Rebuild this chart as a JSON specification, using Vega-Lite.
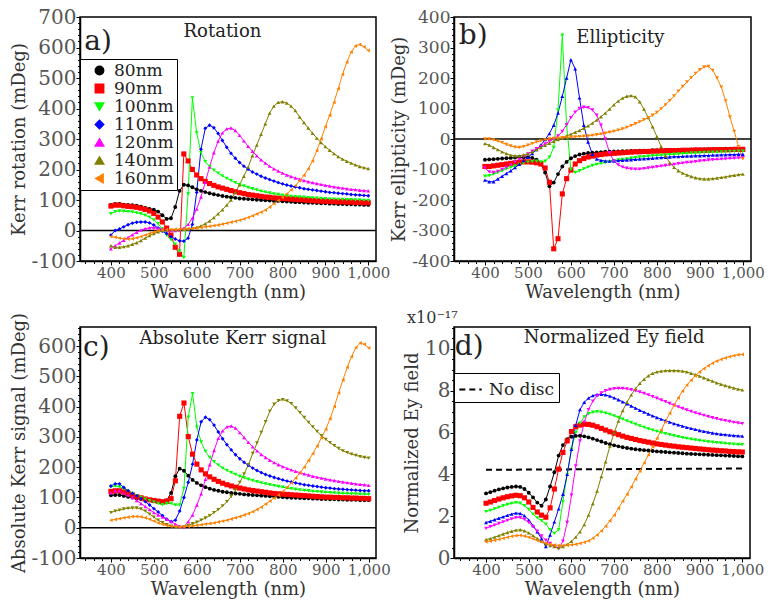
{
"$schema":"https://vega.github.io/schema/vega-lite/v6.json",
"padding":{"left":9,"top":6,"right":0,"bottom":0},
"config":{"font":"DejaVu Serif","view":{"stroke":"#000000","strokeWidth":1.5},
"axis":{"domainColor":"#000000","domainWidth":1.5,"tickColor":"#000000","tickWidth":1,"labelFont":"DejaVu Serif","labelFontSize":15,"labelColor":"#555555","titleFont":"DejaVu Serif","titleFontSize":18,"titleFontWeight":"normal","titleColor":"#333333","grid":false,"labelPadding":0,"titlePadding":3,"labelOverlap":false,"labelFlush":false}},
"datasets":{
"A":[
{"w":400,"80nm":84,"90nm":80,"100nm":55,"110nm":-15,"120nm":-60,"140nm":-50,"160nm":-20},
{"w":410,"80nm":87,"90nm":83,"100nm":62,"110nm":0,"120nm":-50,"140nm":-55,"160nm":-22},
{"w":420,"80nm":87,"90nm":83,"100nm":64,"110nm":5,"120nm":-41,"140nm":-55,"160nm":-25},
{"w":430,"80nm":85,"90nm":81,"100nm":63,"110nm":12,"120nm":-32,"140nm":-53,"160nm":-27},
{"w":440,"80nm":84,"90nm":79,"100nm":62,"110nm":19,"120nm":-23,"140nm":-50,"160nm":-28},
{"w":450,"80nm":83,"90nm":78,"100nm":61,"110nm":24,"120nm":-14,"140nm":-45,"160nm":-27},
{"w":460,"80nm":81,"90nm":76,"100nm":58,"110nm":27,"120nm":-6,"140nm":-40,"160nm":-24},
{"w":470,"80nm":78,"90nm":73,"100nm":55,"110nm":28,"120nm":1,"140nm":-33,"160nm":-20},
{"w":480,"80nm":74,"90nm":69,"100nm":50,"110nm":28,"120nm":6,"140nm":-25,"160nm":-15},
{"w":490,"80nm":71,"90nm":64,"100nm":44,"110nm":25,"120nm":9,"140nm":-17,"160nm":-10},
{"w":500,"80nm":68,"90nm":56,"100nm":35,"110nm":18,"120nm":10,"140nm":-10,"160nm":-5},
{"w":510,"80nm":62,"90nm":44,"100nm":22,"110nm":8,"120nm":8,"140nm":-4,"160nm":0},
{"w":520,"80nm":50,"90nm":28,"100nm":5,"110nm":-2,"120nm":5,"140nm":0,"160nm":2},
{"w":530,"80nm":38,"90nm":8,"100nm":-15,"110nm":-10,"120nm":2,"140nm":2,"160nm":3},
{"w":540,"80nm":40,"90nm":-15,"100nm":-30,"110nm":-20,"120nm":0,"140nm":3,"160nm":3},
{"w":550,"80nm":77,"90nm":-55,"100nm":-45,"110nm":-28,"120nm":0,"140nm":3,"160nm":4},
{"w":560,"80nm":130,"90nm":-78,"100nm":-68,"110nm":-34,"120nm":2,"140nm":3,"160nm":4},
{"w":570,"80nm":150,"90nm":251,"100nm":-89,"110nm":-35,"120nm":8,"140nm":4,"160nm":5},
{"w":580,"80nm":148,"90nm":228,"100nm":121,"110nm":-25,"120nm":20,"140nm":5,"160nm":6},
{"w":590,"80nm":142,"90nm":200,"100nm":435,"110nm":20,"120nm":40,"140nm":7,"160nm":7},
{"w":600,"80nm":135,"90nm":182,"100nm":320,"110nm":125,"120nm":70,"140nm":10,"160nm":8},
{"w":610,"80nm":130,"90nm":170,"100nm":255,"110nm":266,"120nm":110,"140nm":15,"160nm":10},
{"w":620,"80nm":126,"90nm":161,"100nm":226,"110nm":335,"120nm":158,"140nm":22,"160nm":12},
{"w":630,"80nm":122,"90nm":154,"100nm":210,"110nm":345,"120nm":208,"140nm":31,"160nm":14},
{"w":640,"80nm":119,"90nm":148,"100nm":198,"110nm":337,"120nm":255,"140nm":42,"160nm":16},
{"w":650,"80nm":116,"90nm":143,"100nm":188,"110nm":318,"120nm":293,"140nm":55,"160nm":18},
{"w":660,"80nm":113,"90nm":139,"100nm":179,"110nm":295,"120nm":320,"140nm":68,"160nm":21},
{"w":670,"80nm":111,"90nm":135,"100nm":171,"110nm":273,"120nm":333,"140nm":83,"160nm":24},
{"w":680,"80nm":109,"90nm":131,"100nm":164,"110nm":253,"120nm":336,"140nm":100,"160nm":27},
{"w":690,"80nm":107,"90nm":127,"100nm":157,"110nm":237,"120nm":328,"140nm":125,"160nm":30},
{"w":700,"80nm":105,"90nm":124,"100nm":151,"110nm":223,"120nm":312,"140nm":150,"160nm":34},
{"w":710,"80nm":104,"90nm":121,"100nm":146,"110nm":211,"120nm":294,"140nm":178,"160nm":38},
{"w":720,"80nm":103,"90nm":118,"100nm":141,"110nm":201,"120nm":276,"140nm":208,"160nm":43},
{"w":730,"80nm":102,"90nm":116,"100nm":137,"110nm":192,"120nm":260,"140nm":245,"160nm":48},
{"w":740,"80nm":101,"90nm":114,"100nm":133,"110nm":185,"120nm":245,"140nm":280,"160nm":54},
{"w":750,"80nm":100,"90nm":112,"100nm":129,"110nm":178,"120nm":232,"140nm":315,"160nm":60},
{"w":760,"80nm":99,"90nm":110,"100nm":126,"110nm":172,"120nm":221,"140nm":350,"160nm":67},
{"w":770,"80nm":98,"90nm":109,"100nm":123,"110nm":167,"120nm":211,"140nm":385,"160nm":77},
{"w":780,"80nm":97,"90nm":107,"100nm":120,"110nm":162,"120nm":202,"140nm":408,"160nm":88},
{"w":790,"80nm":97,"90nm":106,"100nm":118,"110nm":157,"120nm":195,"140nm":420,"160nm":98},
{"w":800,"80nm":96,"90nm":105,"100nm":116,"110nm":153,"120nm":188,"140nm":422,"160nm":109},
{"w":810,"80nm":95,"90nm":104,"100nm":114,"110nm":149,"120nm":182,"140nm":418,"160nm":120},
{"w":820,"80nm":94,"90nm":103,"100nm":112,"110nm":146,"120nm":177,"140nm":408,"160nm":133},
{"w":830,"80nm":93,"90nm":102,"100nm":111,"110nm":143,"120nm":172,"140nm":393,"160nm":147},
{"w":840,"80nm":93,"90nm":101,"100nm":110,"110nm":140,"120nm":168,"140nm":372,"160nm":163},
{"w":850,"80nm":92,"90nm":100,"100nm":109,"110nm":137,"120nm":164,"140nm":354,"160nm":181},
{"w":860,"80nm":91,"90nm":99,"100nm":108,"110nm":135,"120nm":160,"140nm":336,"160nm":202},
{"w":870,"80nm":91,"90nm":98,"100nm":107,"110nm":133,"120nm":157,"140nm":319,"160nm":228},
{"w":880,"80nm":90,"90nm":97,"100nm":106,"110nm":131,"120nm":154,"140nm":303,"160nm":262},
{"w":890,"80nm":89,"90nm":96,"100nm":105,"110nm":129,"120nm":151,"140nm":288,"160nm":300},
{"w":900,"80nm":89,"90nm":96,"100nm":104,"110nm":127,"120nm":148,"140nm":275,"160nm":340},
{"w":910,"80nm":88,"90nm":95,"100nm":103,"110nm":125,"120nm":146,"140nm":263,"160nm":378},
{"w":920,"80nm":88,"90nm":95,"100nm":103,"110nm":124,"120nm":143,"140nm":252,"160nm":420},
{"w":930,"80nm":87,"90nm":94,"100nm":102,"110nm":122,"120nm":141,"140nm":242,"160nm":465},
{"w":940,"80nm":87,"90nm":94,"100nm":102,"110nm":121,"120nm":139,"140nm":234,"160nm":512},
{"w":950,"80nm":86,"90nm":93,"100nm":101,"110nm":120,"120nm":137,"140nm":227,"160nm":552},
{"w":960,"80nm":86,"90nm":93,"100nm":101,"110nm":118,"120nm":135,"140nm":221,"160nm":585},
{"w":970,"80nm":85,"90nm":92,"100nm":100,"110nm":117,"120nm":134,"140nm":215,"160nm":605},
{"w":980,"80nm":85,"90nm":92,"100nm":100,"110nm":116,"120nm":132,"140nm":210,"160nm":610},
{"w":990,"80nm":84,"90nm":91,"100nm":99,"110nm":115,"120nm":131,"140nm":206,"160nm":602},
{"w":1000,"80nm":84,"90nm":91,"100nm":99,"110nm":114,"120nm":130,"140nm":203,"160nm":590}
],
"B":[
{"w":400,"80nm":-68,"90nm":-90,"100nm":-122,"110nm":-135,"120nm":-95,"140nm":-15,"160nm":0},
{"w":410,"80nm":-67,"90nm":-90,"100nm":-120,"110nm":-140,"120nm":-108,"140nm":-20,"160nm":0},
{"w":420,"80nm":-66,"90nm":-88,"100nm":-115,"110nm":-140,"120nm":-110,"140nm":-28,"160nm":-3},
{"w":430,"80nm":-65,"90nm":-86,"100nm":-110,"110nm":-131,"120nm":-106,"140nm":-35,"160nm":-7},
{"w":440,"80nm":-64,"90nm":-84,"100nm":-104,"110nm":-122,"120nm":-100,"140nm":-42,"160nm":-12},
{"w":450,"80nm":-63,"90nm":-82,"100nm":-98,"110nm":-113,"120nm":-93,"140nm":-48,"160nm":-18},
{"w":460,"80nm":-62,"90nm":-80,"100nm":-93,"110nm":-104,"120nm":-85,"140nm":-53,"160nm":-23},
{"w":470,"80nm":-61,"90nm":-78,"100nm":-88,"110nm":-94,"120nm":-76,"140nm":-55,"160nm":-27},
{"w":480,"80nm":-60,"90nm":-76,"100nm":-83,"110nm":-83,"120nm":-67,"140nm":-55,"160nm":-28},
{"w":490,"80nm":-60,"90nm":-75,"100nm":-79,"110nm":-71,"120nm":-58,"140nm":-52,"160nm":-25},
{"w":500,"80nm":-60,"90nm":-75,"100nm":-76,"110nm":-60,"120nm":-49,"140nm":-48,"160nm":-20},
{"w":510,"80nm":-62,"90nm":-76,"100nm":-74,"110nm":-48,"120nm":-40,"140nm":-42,"160nm":-15},
{"w":520,"80nm":-68,"90nm":-78,"100nm":-73,"110nm":-35,"120nm":-32,"140nm":-35,"160nm":-10},
{"w":530,"80nm":-82,"90nm":-82,"100nm":-75,"110nm":-20,"120nm":-24,"140nm":-28,"160nm":-6},
{"w":540,"80nm":-110,"90nm":-95,"100nm":-73,"110nm":-2,"120nm":-16,"140nm":-21,"160nm":-3},
{"w":550,"80nm":-155,"90nm":-142,"100nm":-60,"110nm":18,"120nm":-8,"140nm":-14,"160nm":0},
{"w":560,"80nm":-143,"90nm":-360,"100nm":-28,"110nm":45,"120nm":0,"140nm":-8,"160nm":2},
{"w":570,"80nm":-115,"90nm":-327,"100nm":95,"110nm":85,"120nm":10,"140nm":-2,"160nm":3},
{"w":580,"80nm":-90,"90nm":-180,"100nm":340,"110nm":140,"120nm":25,"140nm":4,"160nm":4},
{"w":590,"80nm":-75,"90nm":-130,"100nm":45,"110nm":200,"120nm":47,"140nm":10,"160nm":5},
{"w":600,"80nm":-63,"90nm":-102,"100nm":-100,"110nm":260,"120nm":70,"140nm":16,"160nm":6},
{"w":610,"80nm":-56,"90nm":-82,"100nm":-110,"110nm":230,"120nm":88,"140nm":22,"160nm":7},
{"w":620,"80nm":-51,"90nm":-71,"100nm":-104,"110nm":135,"120nm":100,"140nm":28,"160nm":8},
{"w":630,"80nm":-48,"90nm":-64,"100nm":-98,"110nm":45,"120nm":104,"140nm":35,"160nm":9},
{"w":640,"80nm":-46,"90nm":-59,"100nm":-92,"110nm":-10,"120nm":103,"140nm":43,"160nm":10},
{"w":650,"80nm":-45,"90nm":-56,"100nm":-87,"110nm":-50,"120nm":95,"140nm":52,"160nm":12},
{"w":660,"80nm":-44,"90nm":-53,"100nm":-83,"110nm":-66,"120nm":78,"140nm":62,"160nm":14},
{"w":670,"80nm":-43,"90nm":-51,"100nm":-80,"110nm":-70,"120nm":45,"140nm":73,"160nm":16},
{"w":680,"80nm":-42,"90nm":-49,"100nm":-77,"110nm":-72,"120nm":0,"140nm":85,"160nm":19},
{"w":690,"80nm":-42,"90nm":-48,"100nm":-74,"110nm":-72,"120nm":-45,"140nm":98,"160nm":22},
{"w":700,"80nm":-41,"90nm":-47,"100nm":-71,"110nm":-72,"120nm":-72,"140nm":112,"160nm":25},
{"w":710,"80nm":-41,"90nm":-46,"100nm":-69,"110nm":-71,"120nm":-85,"140nm":124,"160nm":29},
{"w":720,"80nm":-40,"90nm":-45,"100nm":-67,"110nm":-70,"120nm":-92,"140nm":134,"160nm":33},
{"w":730,"80nm":-40,"90nm":-44,"100nm":-65,"110nm":-69,"120nm":-96,"140nm":140,"160nm":38},
{"w":740,"80nm":-39,"90nm":-43,"100nm":-63,"110nm":-68,"120nm":-98,"140nm":142,"160nm":44},
{"w":750,"80nm":-39,"90nm":-42,"100nm":-61,"110nm":-67,"120nm":-99,"140nm":138,"160nm":50},
{"w":760,"80nm":-38,"90nm":-42,"100nm":-59,"110nm":-66,"120nm":-99,"140nm":122,"160nm":56},
{"w":770,"80nm":-38,"90nm":-41,"100nm":-58,"110nm":-65,"120nm":-97,"140nm":98,"160nm":63},
{"w":780,"80nm":-38,"90nm":-41,"100nm":-56,"110nm":-64,"120nm":-95,"140nm":70,"160nm":70},
{"w":790,"80nm":-37,"90nm":-40,"100nm":-55,"110nm":-63,"120nm":-93,"140nm":40,"160nm":78},
{"w":800,"80nm":-37,"90nm":-40,"100nm":-54,"110nm":-62,"120nm":-91,"140nm":8,"160nm":87},
{"w":810,"80nm":-37,"90nm":-39,"100nm":-53,"110nm":-61,"120nm":-89,"140nm":-25,"160nm":99},
{"w":820,"80nm":-36,"90nm":-39,"100nm":-52,"110nm":-60,"120nm":-87,"140nm":-55,"160nm":112},
{"w":830,"80nm":-36,"90nm":-38,"100nm":-51,"110nm":-59,"120nm":-85,"140nm":-78,"160nm":126},
{"w":840,"80nm":-36,"90nm":-38,"100nm":-50,"110nm":-58,"120nm":-83,"140nm":-93,"160nm":141},
{"w":850,"80nm":-35,"90nm":-38,"100nm":-49,"110nm":-58,"120nm":-81,"140nm":-104,"160nm":157},
{"w":860,"80nm":-35,"90nm":-37,"100nm":-48,"110nm":-57,"120nm":-79,"140nm":-112,"160nm":172},
{"w":870,"80nm":-35,"90nm":-37,"100nm":-47,"110nm":-56,"120nm":-77,"140nm":-118,"160nm":187},
{"w":880,"80nm":-34,"90nm":-37,"100nm":-46,"110nm":-56,"120nm":-76,"140nm":-123,"160nm":201},
{"w":890,"80nm":-34,"90nm":-36,"100nm":-46,"110nm":-55,"120nm":-74,"140nm":-127,"160nm":215},
{"w":900,"80nm":-34,"90nm":-36,"100nm":-45,"110nm":-55,"120nm":-72,"140nm":-130,"160nm":227},
{"w":910,"80nm":-34,"90nm":-36,"100nm":-44,"110nm":-54,"120nm":-71,"140nm":-131,"160nm":236},
{"w":920,"80nm":-33,"90nm":-36,"100nm":-44,"110nm":-54,"120nm":-69,"140nm":-131,"160nm":238},
{"w":930,"80nm":-33,"90nm":-35,"100nm":-43,"110nm":-53,"120nm":-68,"140nm":-130,"160nm":225},
{"w":940,"80nm":-33,"90nm":-35,"100nm":-43,"110nm":-53,"120nm":-67,"140nm":-128,"160nm":200},
{"w":950,"80nm":-33,"90nm":-35,"100nm":-42,"110nm":-52,"120nm":-66,"140nm":-126,"160nm":170},
{"w":960,"80nm":-32,"90nm":-35,"100nm":-42,"110nm":-52,"120nm":-65,"140nm":-124,"160nm":125},
{"w":970,"80nm":-32,"90nm":-35,"100nm":-41,"110nm":-51,"120nm":-64,"140nm":-121,"160nm":72},
{"w":980,"80nm":-32,"90nm":-34,"100nm":-41,"110nm":-51,"120nm":-63,"140nm":-119,"160nm":25},
{"w":990,"80nm":-32,"90nm":-34,"100nm":-40,"110nm":-50,"120nm":-62,"140nm":-117,"160nm":-25},
{"w":1000,"80nm":-32,"90nm":-34,"100nm":-40,"110nm":-50,"120nm":-61,"140nm":-115,"160nm":-65}
],
"C":[
{"w":400,"80nm":107,"90nm":120,"100nm":135,"110nm":138,"120nm":115,"140nm":50,"160nm":25},
{"w":410,"80nm":108,"90nm":122,"100nm":138,"110nm":145,"120nm":122,"140nm":55,"160nm":27},
{"w":420,"80nm":108,"90nm":122,"100nm":135,"110nm":145,"120nm":122,"140nm":58,"160nm":30},
{"w":430,"80nm":105,"90nm":118,"100nm":128,"110nm":133,"120nm":115,"140nm":62,"160nm":33},
{"w":440,"80nm":102,"90nm":113,"100nm":120,"110nm":122,"120nm":108,"140nm":64,"160nm":35},
{"w":450,"80nm":100,"90nm":108,"100nm":113,"110nm":113,"120nm":100,"140nm":65,"160nm":37},
{"w":460,"80nm":97,"90nm":103,"100nm":106,"110nm":105,"120nm":90,"140nm":65,"160nm":37},
{"w":470,"80nm":95,"90nm":99,"100nm":100,"110nm":96,"120nm":80,"140nm":62,"160nm":36},
{"w":480,"80nm":93,"90nm":95,"100nm":94,"110nm":86,"120nm":70,"140nm":55,"160nm":33},
{"w":490,"80nm":91,"90nm":92,"100nm":89,"110nm":75,"120nm":60,"140nm":45,"160nm":28},
{"w":500,"80nm":90,"90nm":90,"100nm":84,"110nm":63,"120nm":50,"140nm":35,"160nm":22},
{"w":510,"80nm":88,"90nm":88,"100nm":80,"110nm":52,"120nm":42,"140nm":25,"160nm":16},
{"w":520,"80nm":86,"90nm":86,"100nm":76,"110nm":40,"120nm":35,"140nm":17,"160nm":11},
{"w":530,"80nm":90,"90nm":88,"100nm":80,"110nm":28,"120nm":28,"140nm":10,"160nm":7},
{"w":540,"80nm":115,"90nm":96,"100nm":80,"110nm":20,"120nm":20,"140nm":5,"160nm":5},
{"w":550,"80nm":170,"90nm":155,"100nm":75,"110nm":25,"120nm":12,"140nm":2,"160nm":4},
{"w":560,"80nm":195,"90nm":368,"100nm":75,"110nm":55,"120nm":5,"140nm":1,"160nm":3},
{"w":570,"80nm":188,"90nm":412,"100nm":130,"110nm":100,"120nm":3,"140nm":3,"160nm":4},
{"w":580,"80nm":172,"90nm":301,"100nm":365,"110nm":150,"120nm":20,"140nm":8,"160nm":5},
{"w":590,"80nm":158,"90nm":243,"100nm":443,"110nm":210,"120nm":42,"140nm":13,"160nm":6},
{"w":600,"80nm":148,"90nm":210,"100nm":332,"110nm":290,"120nm":75,"140nm":18,"160nm":8},
{"w":610,"80nm":140,"90nm":191,"100nm":283,"110nm":350,"120nm":112,"140nm":25,"160nm":10},
{"w":620,"80nm":134,"90nm":178,"100nm":252,"110nm":365,"120nm":160,"140nm":32,"160nm":12},
{"w":630,"80nm":129,"90nm":168,"100nm":232,"110nm":357,"120nm":208,"140nm":40,"160nm":14},
{"w":640,"80nm":125,"90nm":160,"100nm":218,"110nm":339,"120nm":255,"140nm":50,"160nm":16},
{"w":650,"80nm":122,"90nm":153,"100nm":207,"110nm":316,"120nm":295,"140nm":60,"160nm":19},
{"w":660,"80nm":119,"90nm":147,"100nm":197,"110nm":294,"120nm":320,"140nm":72,"160nm":22},
{"w":670,"80nm":117,"90nm":142,"100nm":189,"110nm":274,"120nm":333,"140nm":86,"160nm":25},
{"w":680,"80nm":115,"90nm":138,"100nm":182,"110nm":257,"120nm":336,"140nm":103,"160nm":29},
{"w":690,"80nm":113,"90nm":134,"100nm":176,"110nm":241,"120nm":329,"140nm":125,"160nm":33},
{"w":700,"80nm":112,"90nm":131,"100nm":170,"110nm":228,"120nm":314,"140nm":150,"160nm":37},
{"w":710,"80nm":110,"90nm":128,"100nm":165,"110nm":216,"120nm":298,"140nm":178,"160nm":42},
{"w":720,"80nm":109,"90nm":125,"100nm":160,"110nm":206,"120nm":282,"140nm":208,"160nm":47},
{"w":730,"80nm":108,"90nm":123,"100nm":156,"110nm":197,"120nm":267,"140nm":245,"160nm":53},
{"w":740,"80nm":107,"90nm":121,"100nm":152,"110nm":189,"120nm":254,"140nm":280,"160nm":60},
{"w":750,"80nm":106,"90nm":119,"100nm":148,"110nm":182,"120nm":242,"140nm":315,"160nm":68},
{"w":760,"80nm":105,"90nm":117,"100nm":145,"110nm":176,"120nm":232,"140nm":350,"160nm":78},
{"w":770,"80nm":104,"90nm":115,"100nm":142,"110nm":171,"120nm":223,"140nm":385,"160nm":88},
{"w":780,"80nm":103,"90nm":113,"100nm":139,"110nm":166,"120nm":215,"140nm":408,"160nm":98},
{"w":790,"80nm":102,"90nm":112,"100nm":136,"110nm":162,"120nm":208,"140nm":420,"160nm":108},
{"w":800,"80nm":101,"90nm":111,"100nm":134,"110nm":158,"120nm":202,"140nm":423,"160nm":120},
{"w":810,"80nm":100,"90nm":110,"100nm":131,"110nm":154,"120nm":196,"140nm":419,"160nm":133},
{"w":820,"80nm":99,"90nm":109,"100nm":129,"110nm":151,"120nm":191,"140nm":410,"160nm":148},
{"w":830,"80nm":99,"90nm":108,"100nm":127,"110nm":148,"120nm":186,"140nm":396,"160nm":164},
{"w":840,"80nm":98,"90nm":107,"100nm":125,"110nm":145,"120nm":182,"140nm":380,"160nm":181},
{"w":850,"80nm":97,"90nm":106,"100nm":123,"110nm":142,"120nm":178,"140nm":364,"160nm":200},
{"w":860,"80nm":97,"90nm":105,"100nm":122,"110nm":140,"120nm":174,"140nm":348,"160nm":222},
{"w":870,"80nm":96,"90nm":104,"100nm":120,"110nm":138,"120nm":170,"140nm":333,"160nm":245},
{"w":880,"80nm":96,"90nm":103,"100nm":119,"110nm":136,"120nm":167,"140nm":318,"160nm":270},
{"w":890,"80nm":95,"90nm":102,"100nm":118,"110nm":134,"120nm":164,"140nm":304,"160nm":297},
{"w":900,"80nm":95,"90nm":101,"100nm":117,"110nm":132,"120nm":161,"140nm":292,"160nm":325},
{"w":910,"80nm":94,"90nm":101,"100nm":116,"110nm":131,"120nm":158,"140nm":281,"160nm":360},
{"w":920,"80nm":94,"90nm":100,"100nm":115,"110nm":129,"120nm":156,"140nm":271,"160nm":400},
{"w":930,"80nm":93,"90nm":100,"100nm":114,"110nm":128,"120nm":153,"140nm":262,"160nm":445},
{"w":940,"80nm":93,"90nm":99,"100nm":113,"110nm":127,"120nm":151,"140nm":254,"160nm":488},
{"w":950,"80nm":92,"90nm":99,"100nm":113,"110nm":126,"120nm":149,"140nm":248,"160nm":530},
{"w":960,"80nm":92,"90nm":98,"100nm":112,"110nm":125,"120nm":147,"140nm":243,"160nm":565},
{"w":970,"80nm":92,"90nm":98,"100nm":112,"110nm":124,"120nm":145,"140nm":239,"160nm":595},
{"w":980,"80nm":91,"90nm":97,"100nm":111,"110nm":123,"120nm":143,"140nm":235,"160nm":610},
{"w":990,"80nm":91,"90nm":97,"100nm":111,"110nm":122,"120nm":142,"140nm":232,"160nm":606},
{"w":1000,"80nm":91,"90nm":96,"100nm":110,"110nm":122,"120nm":140,"140nm":230,"160nm":594}
],
"D":[
{"w":400,"80nm":3.09,"90nm":2.62,"100nm":2.22,"110nm":1.70,"120nm":1.42,"140nm":0.88,"160nm":0.78},
{"w":410,"80nm":3.15,"90nm":2.68,"100nm":2.28,"110nm":1.76,"120nm":1.50,"140nm":0.93,"160nm":0.81},
{"w":420,"80nm":3.22,"90nm":2.75,"100nm":2.35,"110nm":1.83,"120nm":1.57,"140nm":1.00,"160nm":0.85},
{"w":430,"80nm":3.28,"90nm":2.82,"100nm":2.42,"110nm":1.90,"120nm":1.65,"140nm":1.07,"160nm":0.89},
{"w":440,"80nm":3.33,"90nm":2.88,"100nm":2.50,"110nm":1.97,"120nm":1.73,"140nm":1.15,"160nm":0.94},
{"w":450,"80nm":3.37,"90nm":2.93,"100nm":2.56,"110nm":2.04,"120nm":1.80,"140nm":1.22,"160nm":0.99},
{"w":460,"80nm":3.40,"90nm":2.97,"100nm":2.61,"110nm":2.10,"120nm":1.87,"140nm":1.28,"160nm":1.04},
{"w":470,"80nm":3.42,"90nm":3.00,"100nm":2.65,"110nm":2.15,"120nm":1.93,"140nm":1.33,"160nm":1.07},
{"w":480,"80nm":3.40,"90nm":2.98,"100nm":2.62,"110nm":2.13,"120nm":1.93,"140nm":1.35,"160nm":1.08},
{"w":490,"80nm":3.30,"90nm":2.88,"100nm":2.50,"110nm":2.02,"120nm":1.85,"140nm":1.30,"160nm":1.05},
{"w":500,"80nm":3.12,"90nm":2.68,"100nm":2.32,"110nm":1.82,"120nm":1.70,"140nm":1.20,"160nm":0.99},
{"w":510,"80nm":2.90,"90nm":2.42,"100nm":2.10,"110nm":1.55,"120nm":1.50,"140nm":1.07,"160nm":0.92},
{"w":520,"80nm":2.65,"90nm":2.20,"100nm":1.92,"110nm":1.25,"120nm":1.28,"140nm":0.93,"160nm":0.84},
{"w":530,"80nm":2.50,"90nm":2.05,"100nm":1.78,"110nm":0.92,"120nm":1.05,"140nm":0.80,"160nm":0.77},
{"w":540,"80nm":2.80,"90nm":1.95,"100nm":1.62,"110nm":0.55,"120nm":0.85,"140nm":0.68,"160nm":0.71},
{"w":550,"80nm":3.42,"90nm":2.40,"100nm":1.35,"110nm":1.10,"120nm":0.70,"140nm":0.60,"160nm":0.66},
{"w":560,"80nm":4.10,"90nm":3.30,"100nm":1.18,"110nm":1.73,"120nm":0.55,"140nm":0.55,"160nm":0.62},
{"w":570,"80nm":4.90,"90nm":4.25,"100nm":1.35,"110nm":2.35,"120nm":0.45,"140nm":0.50,"160nm":0.60},
{"w":580,"80nm":5.40,"90nm":5.05,"100nm":2.70,"110nm":3.05,"120nm":0.80,"140nm":0.55,"160nm":0.60},
{"w":590,"80nm":5.68,"90nm":5.60,"100nm":4.00,"110nm":4.00,"120nm":1.70,"140nm":0.65,"160nm":0.61},
{"w":600,"80nm":5.80,"90nm":6.05,"100nm":5.20,"110nm":5.20,"120nm":3.00,"140nm":0.80,"160nm":0.63},
{"w":610,"80nm":5.84,"90nm":6.28,"100nm":6.00,"110nm":6.35,"120nm":4.40,"140nm":1.00,"160nm":0.66},
{"w":620,"80nm":5.85,"90nm":6.36,"100nm":6.45,"110nm":7.10,"120nm":5.60,"140nm":1.25,"160nm":0.70},
{"w":630,"80nm":5.82,"90nm":6.40,"100nm":6.75,"110nm":7.45,"120nm":6.50,"140nm":1.60,"160nm":0.75},
{"w":640,"80nm":5.77,"90nm":6.39,"100nm":6.90,"110nm":7.65,"120nm":7.10,"140nm":2.05,"160nm":0.82},
{"w":650,"80nm":5.71,"90nm":6.35,"100nm":6.97,"110nm":7.77,"120nm":7.50,"140nm":2.60,"160nm":0.95},
{"w":660,"80nm":5.64,"90nm":6.28,"100nm":7.00,"110nm":7.82,"120nm":7.75,"140nm":3.20,"160nm":1.10},
{"w":670,"80nm":5.57,"90nm":6.20,"100nm":6.98,"110nm":7.83,"120nm":7.90,"140nm":3.90,"160nm":1.30},
{"w":680,"80nm":5.50,"90nm":6.12,"100nm":6.93,"110nm":7.80,"120nm":8.00,"140nm":4.60,"160nm":1.52},
{"w":690,"80nm":5.44,"90nm":6.04,"100nm":6.87,"110nm":7.74,"120nm":8.06,"140nm":5.35,"160nm":1.78},
{"w":700,"80nm":5.39,"90nm":5.97,"100nm":6.80,"110nm":7.66,"120nm":8.10,"140nm":6.00,"160nm":2.05},
{"w":710,"80nm":5.34,"90nm":5.90,"100nm":6.72,"110nm":7.57,"120nm":8.11,"140nm":6.55,"160nm":2.38},
{"w":720,"80nm":5.30,"90nm":5.83,"100nm":6.64,"110nm":7.47,"120nm":8.11,"140nm":7.05,"160nm":2.72},
{"w":730,"80nm":5.26,"90nm":5.77,"100nm":6.56,"110nm":7.37,"120nm":8.09,"140nm":7.45,"160nm":3.05},
{"w":740,"80nm":5.23,"90nm":5.72,"100nm":6.48,"110nm":7.27,"120nm":8.05,"140nm":7.80,"160nm":3.40},
{"w":750,"80nm":5.20,"90nm":5.67,"100nm":6.40,"110nm":7.17,"120nm":8.00,"140nm":8.10,"160nm":3.78},
{"w":760,"80nm":5.18,"90nm":5.62,"100nm":6.32,"110nm":7.07,"120nm":7.94,"140nm":8.35,"160nm":4.16},
{"w":770,"80nm":5.16,"90nm":5.58,"100nm":6.25,"110nm":6.98,"120nm":7.87,"140nm":8.55,"160nm":4.55},
{"w":780,"80nm":5.14,"90nm":5.54,"100nm":6.18,"110nm":6.89,"120nm":7.80,"140nm":8.72,"160nm":4.93},
{"w":790,"80nm":5.12,"90nm":5.50,"100nm":6.12,"110nm":6.80,"120nm":7.72,"140nm":8.83,"160nm":5.32},
{"w":800,"80nm":5.10,"90nm":5.46,"100nm":6.06,"110nm":6.72,"120nm":7.64,"140nm":8.90,"160nm":5.72},
{"w":810,"80nm":5.08,"90nm":5.43,"100nm":6.00,"110nm":6.64,"120nm":7.56,"140nm":8.94,"160nm":6.12},
{"w":820,"80nm":5.07,"90nm":5.40,"100nm":5.95,"110nm":6.57,"120nm":7.48,"140nm":8.96,"160nm":6.52},
{"w":830,"80nm":5.05,"90nm":5.37,"100nm":5.90,"110nm":6.50,"120nm":7.39,"140nm":8.97,"160nm":6.92},
{"w":840,"80nm":5.04,"90nm":5.35,"100nm":5.85,"110nm":6.43,"120nm":7.31,"140nm":8.97,"160nm":7.30},
{"w":850,"80nm":5.02,"90nm":5.32,"100nm":5.80,"110nm":6.37,"120nm":7.23,"140nm":8.96,"160nm":7.66},
{"w":860,"80nm":5.01,"90nm":5.30,"100nm":5.76,"110nm":6.31,"120nm":7.15,"140nm":8.94,"160nm":7.98},
{"w":870,"80nm":4.99,"90nm":5.28,"100nm":5.72,"110nm":6.25,"120nm":7.08,"140nm":8.90,"160nm":8.27},
{"w":880,"80nm":4.98,"90nm":5.26,"100nm":5.68,"110nm":6.20,"120nm":7.01,"140nm":8.84,"160nm":8.50},
{"w":890,"80nm":4.97,"90nm":5.24,"100nm":5.65,"110nm":6.15,"120nm":6.94,"140nm":8.77,"160nm":8.72},
{"w":900,"80nm":4.96,"90nm":5.22,"100nm":5.62,"110nm":6.10,"120nm":6.88,"140nm":8.70,"160nm":8.90},
{"w":910,"80nm":4.95,"90nm":5.20,"100nm":5.59,"110nm":6.06,"120nm":6.82,"140nm":8.62,"160nm":9.06},
{"w":920,"80nm":4.94,"90nm":5.18,"100nm":5.56,"110nm":6.02,"120nm":6.76,"140nm":8.54,"160nm":9.20},
{"w":930,"80nm":4.93,"90nm":5.16,"100nm":5.54,"110nm":5.98,"120nm":6.71,"140nm":8.46,"160nm":9.32},
{"w":940,"80nm":4.92,"90nm":5.15,"100nm":5.52,"110nm":5.95,"120nm":6.66,"140nm":8.38,"160nm":9.42},
{"w":950,"80nm":4.91,"90nm":5.13,"100nm":5.50,"110nm":5.92,"120nm":6.61,"140nm":8.31,"160nm":9.50},
{"w":960,"80nm":4.90,"90nm":5.12,"100nm":5.48,"110nm":5.90,"120nm":6.57,"140nm":8.25,"160nm":9.57},
{"w":970,"80nm":4.89,"90nm":5.10,"100nm":5.46,"110nm":5.88,"120nm":6.53,"140nm":8.19,"160nm":9.63},
{"w":980,"80nm":4.88,"90nm":5.09,"100nm":5.45,"110nm":5.86,"120nm":6.49,"140nm":8.13,"160nm":9.68},
{"w":990,"80nm":4.87,"90nm":5.08,"100nm":5.43,"110nm":5.84,"120nm":6.46,"140nm":8.08,"160nm":9.72},
{"w":1000,"80nm":4.86,"90nm":5.07,"100nm":5.42,"110nm":5.83,"120nm":6.43,"140nm":8.04,"160nm":9.74}
],
"ND":[{"w":400,"v":4.22,"label":"No disc"},{"w":1000,"v":4.28,"label":"No disc"}]
},
"columns":2,
"spacing":{"row":66,"column":78},
"bounds":"flush",
"resolve":{"scale":{"x":"independent","y":"independent","color":"independent","shape":"independent","strokeDash":"independent"},"legend":{"color":"independent","shape":"independent","strokeDash":"independent"},"axis":{"x":"independent","y":"independent"}},
"concat":[
{"width":296,"height":244,"data":{"name":"A"},
"resolve":{"axis":{"x":"independent","y":"independent"}},
"layer":[
{"data":{"values":[{}]},"mark":{"type":"rule","color":"#000000","strokeWidth":1.5},"encoding":{"y":{"datum":0,"type":"quantitative","axis":null}}},
{"transform":[{"fold":["80nm","90nm","100nm","110nm","120nm","140nm","160nm"],"as":["series","v"]}],
"mark":{"type":"line","strokeWidth":1},
"encoding":{
"x":{"field":"w","type":"quantitative","scale":{"domain":[328,1018],"nice":false,"zero":false},"axis":{"title":"Wavelength (nm)","values":[400,500,600,700,800,900,1000],"labelExpr":"format(datum.value, ',d')","tickSize":4}},
"y":{"field":"v","type":"quantitative","scale":{"domain":[-100,700],"nice":false,"zero":false},"axis":{"title":"Kerr rotation (mDeg)","labelFontSize":20,"values":[-100,0,100,200,300,400,500,600,700],"labelExpr":"'' + datum.value","tickSize":4}},
"color":{"field":"series","type":"nominal","scale":{"domain":["80nm","90nm","100nm","110nm","120nm","140nm","160nm"],"range":["#000000","#ff0000","#00ff00","#0000ff","#ff00ff","#808000","#ff8000"]}}}},
{"transform":[{"fold":["80nm","90nm","100nm","110nm","120nm","140nm","160nm"],"as":["series","v"]}],
"mark":{"type":"point","filled":true,"opacity":1},
"encoding":{
"x":{"field":"w","type":"quantitative","axis":{"orient":"bottom","title":null,"labels":false,"domain":false,"tickSize":2.5,"values":[340,360,380,420,440,460,480,520,540,560,580,620,640,660,680,720,740,760,780,820,840,860,880,920,940,960,980]}},
"y":{"field":"v","type":"quantitative","axis":{"orient":"left","title":null,"labels":false,"domain":false,"tickSize":2.5,"values":[-80,-60,-40,-20,20,40,60,80,120,140,160,180,220,240,260,280,320,340,360,380,420,440,460,480,520,540,560,580,620,640,660,680]}},
"color":{"field":"series","type":"nominal","scale":{"domain":["80nm","90nm","100nm","110nm","120nm","140nm","160nm"],"range":["#000000","#ff0000","#00ff00","#0000ff","#ff00ff","#808000","#ff8000"]},
"legend":{"orient":"none","legendX":0,"legendY":42,"title":null,"strokeColor":"#000000","fillColor":"#ffffff","padding":3,"labelFontSize":17,"labelFont":"DejaVu Serif","labelColor":"#222222","symbolSize":70,"symbolOffset":8,"labelOffset":6,"rowPadding":0}},
"shape":{"field":"series","type":"nominal","scale":{"domain":["80nm","90nm","100nm","110nm","120nm","140nm","160nm"],"range":["circle","square","triangle-down","diamond","triangle-up","triangle-up","triangle-left"]},"legend":null},
"size":{"condition":{"test":"datum.series === '90nm'","value":26},"value":15}}},
{"data":{"values":[{}]},"mark":{"type":"text","text":"a)","fontSize":28,"align":"left","baseline":"middle","font":"DejaVu Serif","color":"#222222"},"encoding":{"x":{"datum":338,"type":"quantitative","axis":null},"y":{"datum":618,"type":"quantitative","axis":null}}},
{"data":{"values":[{}]},"mark":{"type":"text","text":"Rotation","fontSize":18,"align":"center","baseline":"middle","font":"DejaVu Serif","color":"#222222"},"encoding":{"x":{"datum":660,"type":"quantitative","axis":null},"y":{"datum":651,"type":"quantitative","axis":null}}}
]},
{"width":297,"height":244,"data":{"name":"B"},
"resolve":{"axis":{"x":"independent","y":"independent"}},
"layer":[
{"data":{"values":[{}]},"mark":{"type":"rule","color":"#000000","strokeWidth":1.5},"encoding":{"y":{"datum":0,"type":"quantitative","axis":null}}},
{"transform":[{"fold":["80nm","90nm","100nm","110nm","120nm","140nm","160nm"],"as":["series","v"]}],
"mark":{"type":"line","strokeWidth":1},
"encoding":{
"x":{"field":"w","type":"quantitative","scale":{"domain":[328,1019],"nice":false,"zero":false},"axis":{"title":"Wavelength (nm)","values":[400,500,600,700,800,900,1000],"labelExpr":"format(datum.value, ',d')","tickSize":4}},
"y":{"field":"v","type":"quantitative","scale":{"domain":[-400,400],"nice":false,"zero":false},"axis":{"title":"Kerr ellipticity (mDeg)","labelFontSize":17,"values":[-400,-300,-200,-100,0,100,200,300,400],"labelExpr":"'' + datum.value","tickSize":4}},
"color":{"field":"series","type":"nominal","scale":{"domain":["80nm","90nm","100nm","110nm","120nm","140nm","160nm"],"range":["#000000","#ff0000","#00ff00","#0000ff","#ff00ff","#808000","#ff8000"]},"legend":null}}},
{"transform":[{"fold":["80nm","90nm","100nm","110nm","120nm","140nm","160nm"],"as":["series","v"]}],
"mark":{"type":"point","filled":true,"opacity":1},
"encoding":{
"x":{"field":"w","type":"quantitative","axis":{"orient":"bottom","title":null,"labels":false,"domain":false,"tickSize":2.5,"values":[340,360,380,420,440,460,480,520,540,560,580,620,640,660,680,720,740,760,780,820,840,860,880,920,940,960,980]}},
"y":{"field":"v","type":"quantitative","axis":{"orient":"left","title":null,"labels":false,"domain":false,"tickSize":2.5,"values":[-380,-360,-340,-320,-280,-260,-240,-220,-180,-160,-140,-120,-80,-60,-40,-20,20,40,60,80,120,140,160,180,220,240,260,280,320,340,360,380]}},
"color":{"field":"series","type":"nominal","scale":{"domain":["80nm","90nm","100nm","110nm","120nm","140nm","160nm"],"range":["#000000","#ff0000","#00ff00","#0000ff","#ff00ff","#808000","#ff8000"]},"legend":null},
"shape":{"field":"series","type":"nominal","scale":{"domain":["80nm","90nm","100nm","110nm","120nm","140nm","160nm"],"range":["circle","square","triangle-down","triangle-up","triangle-down","triangle-up","triangle-down"]},"legend":null},
"size":{"condition":{"test":"datum.series === '90nm'","value":26},"value":15}}},
{"data":{"values":[{}]},"mark":{"type":"text","text":"b)","fontSize":28,"align":"left","baseline":"middle","font":"DejaVu Serif","color":"#222222"},"encoding":{"x":{"datum":339,"type":"quantitative","axis":null},"y":{"datum":338,"type":"quantitative","axis":null}}},
{"data":{"values":[{}]},"mark":{"type":"text","text":"Ellipticity","fontSize":18,"align":"center","baseline":"middle","font":"DejaVu Serif","color":"#222222"},"encoding":{"x":{"datum":715,"type":"quantitative","axis":null},"y":{"datum":331,"type":"quantitative","axis":null}}}
]},
{"width":296,"height":231,"data":{"name":"C"},
"resolve":{"axis":{"x":"independent","y":"independent"}},
"layer":[
{"data":{"values":[{}]},"mark":{"type":"rule","color":"#000000","strokeWidth":1.5},"encoding":{"y":{"datum":0,"type":"quantitative","axis":null}}},
{"transform":[{"fold":["80nm","90nm","100nm","110nm","120nm","140nm","160nm"],"as":["series","v"]}],
"mark":{"type":"line","strokeWidth":1},
"encoding":{
"x":{"field":"w","type":"quantitative","scale":{"domain":[328,1017],"nice":false,"zero":false},"axis":{"title":"Wavelength (nm)","values":[400,500,600,700,800,900,1000],"labelExpr":"format(datum.value, ',d')","tickSize":4}},
"y":{"field":"v","type":"quantitative","scale":{"domain":[-100,663],"nice":false,"zero":false},"axis":{"title":"Absolute Kerr signal (mDeg)","labelFontSize":20,"values":[-100,0,100,200,300,400,500,600],"labelExpr":"'' + datum.value","tickSize":4}},
"color":{"field":"series","type":"nominal","scale":{"domain":["80nm","90nm","100nm","110nm","120nm","140nm","160nm"],"range":["#000000","#ff0000","#00ff00","#0000ff","#ff00ff","#808000","#ff8000"]},"legend":null}}},
{"transform":[{"fold":["80nm","90nm","100nm","110nm","120nm","140nm","160nm"],"as":["series","v"]}],
"mark":{"type":"point","filled":true,"opacity":1},
"encoding":{
"x":{"field":"w","type":"quantitative","axis":{"orient":"bottom","title":null,"labels":false,"domain":false,"tickSize":2.5,"values":[340,360,380,420,440,460,480,520,540,560,580,620,640,660,680,720,740,760,780,820,840,860,880,920,940,960,980]}},
"y":{"field":"v","type":"quantitative","axis":{"orient":"left","title":null,"labels":false,"domain":false,"tickSize":2.5,"values":[-80,-60,-40,-20,20,40,60,80,120,140,160,180,220,240,260,280,320,340,360,380,420,440,460,480,520,540,560,580,620,640,660]}},
"color":{"field":"series","type":"nominal","scale":{"domain":["80nm","90nm","100nm","110nm","120nm","140nm","160nm"],"range":["#000000","#ff0000","#00ff00","#0000ff","#ff00ff","#808000","#ff8000"]},"legend":null},
"shape":{"field":"series","type":"nominal","scale":{"domain":["80nm","90nm","100nm","110nm","120nm","140nm","160nm"],"range":["circle","square","triangle-down","diamond","triangle-up","triangle-down","triangle-left"]},"legend":null},
"size":{"condition":{"test":"datum.series === '90nm'","value":26},"value":15}}},
{"data":{"values":[{}]},"mark":{"type":"text","text":"c)","fontSize":28,"align":"left","baseline":"middle","font":"DejaVu Serif","color":"#222222"},"encoding":{"x":{"datum":335,"type":"quantitative","axis":null},"y":{"datum":593,"type":"quantitative","axis":null}}},
{"data":{"values":[{}]},"mark":{"type":"text","text":"Absolute Kerr signal","fontSize":18,"align":"center","baseline":"middle","font":"DejaVu Serif","color":"#222222"},"encoding":{"x":{"datum":684,"type":"quantitative","axis":null},"y":{"datum":625,"type":"quantitative","axis":null}}}
]},
{"width":296,"height":231,"data":{"name":"D"},
"resolve":{"axis":{"x":"independent","y":"independent"}},
"title":{"text":"x10⁻¹⁷","anchor":"start","frame":"group","dx":-47,"offset":1,"fontSize":16,"font":"DejaVu Serif","fontWeight":"normal","color":"#333333"},
"layer":[
{"data":{"name":"ND"},"mark":{"type":"line","color":"#000000","strokeWidth":2},"encoding":{"x":{"field":"w","type":"quantitative","axis":null},"y":{"field":"v","type":"quantitative","axis":null},
"strokeDash":{"field":"label","type":"nominal","scale":{"domain":["No disc"],"range":[[6,4]]},
"legend":{"orient":"none","legendX":0,"legendY":46,"title":null,"strokeColor":"#000000","fillColor":"#ffffff","padding":4,"labelFontSize":17,"labelFont":"DejaVu Serif","labelColor":"#222222","symbolType":"stroke","symbolSize":500,"symbolStrokeWidth":2,"symbolStrokeColor":"#000000","labelOffset":6}}}},
{"transform":[{"fold":["80nm","90nm","100nm","110nm","120nm","140nm","160nm"],"as":["series","v"]}],
"mark":{"type":"line","strokeWidth":1},
"encoding":{
"x":{"field":"w","type":"quantitative","scale":{"domain":[325,1018],"nice":false,"zero":false},"axis":{"title":"Wavelength (nm)","values":[400,500,600,700,800,900,1000],"labelExpr":"format(datum.value, ',d')","tickSize":4}},
"y":{"field":"v","type":"quantitative","scale":{"domain":[0,11.05],"nice":false,"zero":false},"axis":{"title":"Normalized Ey field","labelFontSize":20,"values":[0,2,4,6,8,10],"labelExpr":"'' + datum.value","tickSize":4}},
"color":{"field":"series","type":"nominal","scale":{"domain":["80nm","90nm","100nm","110nm","120nm","140nm","160nm"],"range":["#000000","#ff0000","#00ff00","#0000ff","#ff00ff","#808000","#ff8000"]},"legend":null}}},
{"transform":[{"fold":["80nm","90nm","100nm","110nm","120nm","140nm","160nm"],"as":["series","v"]}],
"mark":{"type":"point","filled":true,"opacity":1},
"encoding":{
"x":{"field":"w","type":"quantitative","axis":{"orient":"bottom","title":null,"labels":false,"domain":false,"tickSize":2.5,"values":[340,360,380,420,440,460,480,520,540,560,580,620,640,660,680,720,740,760,780,820,840,860,880,920,940,960,980]}},
"y":{"field":"v","type":"quantitative","axis":{"orient":"left","title":null,"labels":false,"domain":false,"tickSize":2.5,"values":[0.5,1,1.5,2.5,3,3.5,4.5,5,5.5,6.5,7,7.5,8.5,9,9.5,10.5,11]}},
"color":{"field":"series","type":"nominal","scale":{"domain":["80nm","90nm","100nm","110nm","120nm","140nm","160nm"],"range":["#000000","#ff0000","#00ff00","#0000ff","#ff00ff","#808000","#ff8000"]},"legend":null},
"shape":{"field":"series","type":"nominal","scale":{"domain":["80nm","90nm","100nm","110nm","120nm","140nm","160nm"],"range":["circle","square","triangle-down","triangle-up","triangle-down","triangle-up","triangle-left"]},"legend":null},
"size":{"condition":{"test":"datum.series === '90nm'","value":26},"value":15}}},
{"data":{"values":[{}]},"mark":{"type":"text","text":"d)","fontSize":28,"align":"left","baseline":"middle","font":"DejaVu Serif","color":"#222222"},"encoding":{"x":{"datum":327,"type":"quantitative","axis":null},"y":{"datum":10.08,"type":"quantitative","axis":null}}},
{"data":{"values":[{}]},"mark":{"type":"text","text":"Normalized Ey field","fontSize":18,"align":"center","baseline":"middle","font":"DejaVu Serif","color":"#222222"},"encoding":{"x":{"datum":700,"type":"quantitative","axis":null},"y":{"datum":10.54,"type":"quantitative","axis":null}}}
]}
]
}
